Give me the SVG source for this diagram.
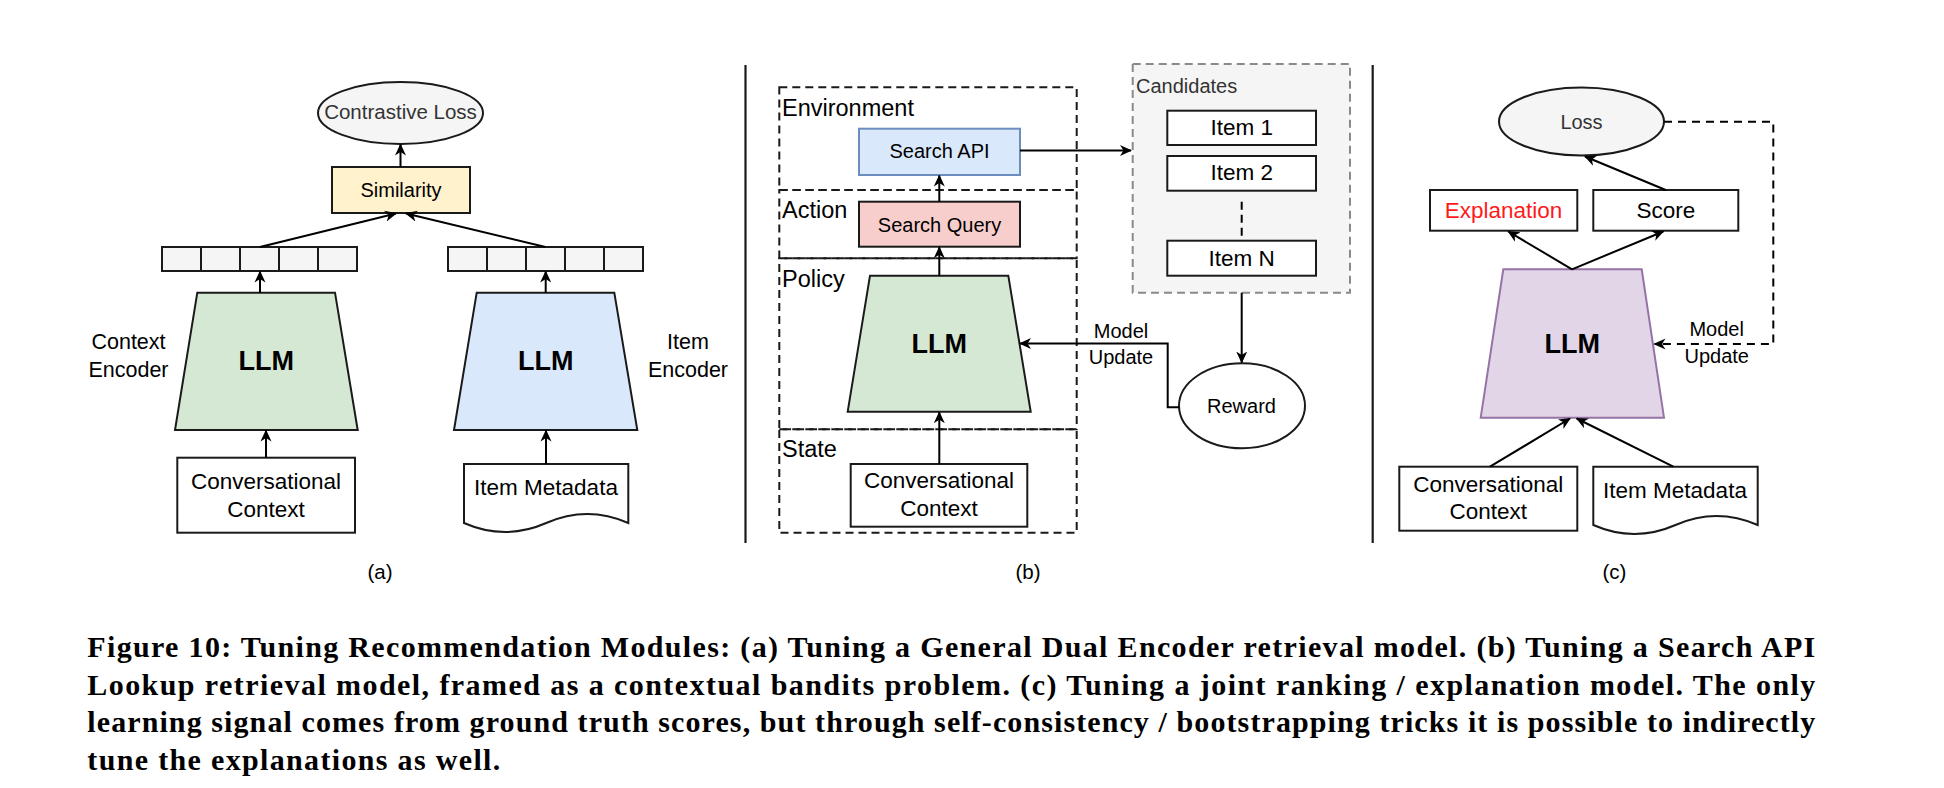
<svg xmlns="http://www.w3.org/2000/svg" width="1944" height="788" viewBox="0 0 1944 788">
<style>
.bg{fill:#ffffff}
.box{fill:#ffffff;stroke:#1a1a1a;stroke-width:2}
.gray{fill:#f5f5f5;stroke:#1a1a1a;stroke-width:2}
.green{fill:#d5e8d4;stroke:#1a1a1a;stroke-width:2}
.blue{fill:#dae8fc;stroke:#1a1a1a;stroke-width:2}
.yellow{fill:#fff2cc;stroke:#1a1a1a;stroke-width:2}
.red{fill:#f8cecc;stroke:#1a1a1a;stroke-width:2}
.purple{fill:#e1d5e7;stroke:#9673a6;stroke-width:2}
.api{fill:#dae8fc;stroke:#6c8ebf;stroke-width:2}
.zone{fill:none;stroke:#1a1a1a;stroke-width:2;stroke-dasharray:8 5}
.cand{fill:#f5f5f5;stroke:#8a8a8a;stroke-width:2;stroke-dasharray:8 5}
.edge{fill:none;stroke:#000;stroke-width:2}
.dash{fill:none;stroke:#000;stroke-width:2;stroke-dasharray:8 6}
.div{stroke:#1a1a1a;stroke-width:2.2}
.t{font-family:"Liberation Sans",Arial,Helvetica,sans-serif;font-size:20px;fill:#000}
.m{text-anchor:middle}
.big{font-size:22.5px}
.zl{font-size:23.5px}
.g3{fill:#333}
.sub{font-size:20.5px}
.llm{font-weight:bold;font-size:27px}
.cap{font-family:"Liberation Serif","Times New Roman",serif;font-weight:bold;font-size:30px;fill:#000}
</style>
<defs>
<marker id="arr" viewBox="0 0 12 12" refX="11" refY="6" markerWidth="12" markerHeight="12" markerUnits="userSpaceOnUse" orient="auto">
<path d="M0,0.5 L12,6 L0,11.5 L3.5,6 Z" fill="#000"/>
</marker>
</defs>
<rect class="bg" x="0" y="0" width="1944" height="788"/>

<!-- Panel (a) -->
<g id="a-contrastive-loss">
<ellipse class="gray" cx="400.5" cy="113" rx="82.5" ry="31"/>
<text class="t m g3" x="400.5" y="118.5" style="font-size:20.5px">Contrastive Loss</text>
</g>
<g id="a-similarity">
<rect class="yellow" x="332" y="167" width="138" height="46"/>
<text class="t m" x="401" y="197">Similarity</text>
</g>
<g id="a-context-vector">
<rect class="gray" x="162" y="247" width="39" height="24"/>
<rect class="gray" x="201" y="247" width="39" height="24"/>
<rect class="gray" x="240" y="247" width="39" height="24"/>
<rect class="gray" x="279" y="247" width="39" height="24"/>
<rect class="gray" x="318" y="247" width="39" height="24"/>
</g>
<g id="a-item-vector">
<rect class="gray" x="448" y="247" width="39" height="24"/>
<rect class="gray" x="487" y="247" width="39" height="24"/>
<rect class="gray" x="526" y="247" width="39" height="24"/>
<rect class="gray" x="565" y="247" width="39" height="24"/>
<rect class="gray" x="604" y="247" width="39" height="24"/>
</g>
<g id="a-context-llm">
<polygon class="green" points="197.3,292.7 335,292.7 357.7,430 175,430"/>
<text class="t m llm" x="266.3" y="370">LLM</text>
</g>
<g id="a-item-llm">
<polygon class="blue" points="476.7,292.7 614.3,292.7 637.3,430 454,430"/>
<text class="t m llm" x="545.7" y="370">LLM</text>
</g>
<g id="a-context-encoder-label">
<text class="t m" x="128.5" y="349.3" style="font-size:21.5px">Context</text>
<text class="t m" x="128.5" y="376.7" style="font-size:21.5px">Encoder</text>
</g>
<g id="a-item-encoder-label">
<text class="t m" x="688" y="349.3" style="font-size:21.5px">Item</text>
<text class="t m" x="688" y="376.7" style="font-size:21.5px">Encoder</text>
</g>
<g id="a-conversational-context">
<rect class="box" x="177.3" y="457.7" width="177.7" height="75"/>
<text class="t m big" x="266" y="489.3">Conversational</text>
<text class="t m big" x="266" y="516.7">Context</text>
</g>
<g id="a-item-metadata">
<path class="box" d="M464,464 H628.3 V523 Q587.2,505 546.2,523 Q505.1,541 464,523 Z"/>
<text class="t m big" x="546" y="495">Item Metadata</text>
</g>
<g id="a-caption">
<text class="t m sub" x="380" y="579">(a)</text>
</g>

<line class="div" x1="745.5" y1="65" x2="745.5" y2="543"/>

<!-- Panel (b) -->
<g id="b-environment">
<rect class="zone" x="779.3" y="87.3" width="297.4" height="102.7"/>
<text class="t zl" x="782" y="116">Environment</text>
</g>
<g id="b-action">
<rect class="zone" x="779.3" y="190" width="297.4" height="68.3"/>
<text class="t zl" x="782" y="218.3">Action</text>
</g>
<g id="b-policy">
<rect class="zone" x="779.3" y="258.3" width="297.4" height="171"/>
<text class="t zl" x="782" y="287.3">Policy</text>
</g>
<g id="b-state">
<rect class="zone" x="779.3" y="429.3" width="297.4" height="103.4"/>
<text class="t zl" x="782" y="457.3">State</text>
</g>
<g id="b-search-api">
<rect class="api" x="859" y="128.7" width="161" height="46.3"/>
<text class="t m" x="939.5" y="158.3">Search API</text>
</g>
<g id="b-search-query">
<rect class="red" x="859" y="201.7" width="161" height="45"/>
<text class="t m" x="939.5" y="231.7">Search Query</text>
</g>
<g id="b-llm">
<polygon class="green" points="870,275.7 1008.3,275.7 1030.7,411.7 847.7,411.7"/>
<text class="t m llm" x="939.2" y="352.7">LLM</text>
</g>
<g id="b-conversational-context">
<rect class="box" x="850.7" y="464" width="176.6" height="62.7"/>
<text class="t m big" x="939" y="488.3">Conversational</text>
<text class="t m big" x="939" y="516">Context</text>
</g>
<g id="b-candidates">
<rect class="cand" x="1132.7" y="64" width="217.3" height="228.7"/>
<text class="t g3" x="1136" y="93.3">Candidates</text>
</g>
<g id="b-item-1">
<rect class="box" x="1167.3" y="110.7" width="148.7" height="34.3"/>
<text class="t m big" x="1241.7" y="135">Item 1</text>
</g>
<g id="b-item-2">
<rect class="box" x="1167.3" y="156" width="148.7" height="34.7"/>
<text class="t m big" x="1241.7" y="180">Item 2</text>
</g>
<g id="b-item-n">
<rect class="box" x="1167.3" y="240.7" width="148.7" height="35"/>
<text class="t m big" x="1241.7" y="266">Item N</text>
</g>
<g id="b-reward">
<ellipse class="box" cx="1242" cy="405.8" rx="63" ry="42.5"/>
<text class="t m" x="1241.5" y="412.7">Reward</text>
</g>
<g id="b-caption">
<text class="t m sub" x="1028" y="579">(b)</text>
</g>

<line class="div" x1="1372.7" y1="65" x2="1372.7" y2="543"/>

<!-- Panel (c) -->
<g id="c-loss">
<ellipse class="gray" cx="1581.5" cy="121.5" rx="82.5" ry="34"/>
<text class="t m g3" x="1581.5" y="129.3">Loss</text>
</g>
<g id="c-explanation">
<rect class="box" x="1430" y="190" width="147.3" height="40.7"/>
<text class="t m big" x="1503.5" y="217.5" style="fill:#ff1a1a">Explanation</text>
</g>
<g id="c-score">
<rect class="box" x="1593.3" y="190" width="145" height="40.7"/>
<text class="t m big" x="1665.8" y="217.5">Score</text>
</g>
<g id="c-llm">
<polygon class="purple" points="1503.3,269.3 1641.7,269.3 1664,417.7 1480.7,417.7"/>
<text class="t m llm" x="1572.3" y="353.3">LLM</text>
</g>
<g id="c-conversational-context">
<rect class="box" x="1399.3" y="466.7" width="178" height="64"/>
<text class="t m big" x="1488.3" y="491.7">Conversational</text>
<text class="t m big" x="1488.3" y="519.3">Context</text>
</g>
<g id="c-item-metadata">
<path class="box" d="M1593.3,466.7 H1757.7 V525 Q1716.6,507 1675.5,525 Q1634.4,543 1593.3,525 Z"/>
<text class="t m big" x="1675" y="498.3">Item Metadata</text>
</g>
<g id="c-caption">
<text class="t m sub" x="1614.5" y="579">(c)</text>
</g>

<!-- Connectors -->
<g id="connectors">
<line class="edge" x1="400.5" y1="167" x2="400.5" y2="144.5" marker-end="url(#arr)"/>
<line class="edge" x1="260" y1="247" x2="396" y2="213.5" marker-end="url(#arr)"/>
<line class="edge" x1="545.5" y1="247" x2="406" y2="213.5" marker-end="url(#arr)"/>
<line class="edge" x1="260" y1="292.7" x2="260" y2="271.5" marker-end="url(#arr)"/>
<line class="edge" x1="545.7" y1="292.7" x2="545.7" y2="271.5" marker-end="url(#arr)"/>
<line class="edge" x1="266" y1="457.7" x2="266" y2="430.5" marker-end="url(#arr)"/>
<line class="edge" x1="546" y1="464" x2="546" y2="430.5" marker-end="url(#arr)"/>

<line class="edge" x1="939.3" y1="201.7" x2="939.3" y2="175.5" marker-end="url(#arr)"/>
<line class="edge" x1="939.3" y1="275.7" x2="939.3" y2="247.2" marker-end="url(#arr)"/>
<line class="edge" x1="939.3" y1="464" x2="939.3" y2="412.2" marker-end="url(#arr)"/>
<line class="edge" x1="1020" y1="150.5" x2="1131" y2="150.5" marker-end="url(#arr)"/>
<line class="dash" x1="1241.7" y1="201.7" x2="1241.7" y2="240.7" style="stroke-dasharray:8 5"/>
<line class="edge" x1="1241.7" y1="292.7" x2="1241.7" y2="362.5" marker-end="url(#arr)"/>
<polyline class="edge" points="1179,407.3 1167.7,407.3 1167.7,343.5 1020,343.5" marker-end="url(#arr)"/>
<text class="t m" x="1121" y="338.3">Model</text>
<text class="t m" x="1121" y="363.5">Update</text>

<line class="edge" x1="1665.7" y1="190" x2="1585" y2="156.5" marker-end="url(#arr)"/>
<line class="edge" x1="1572" y1="269.3" x2="1508.3" y2="231.5" marker-end="url(#arr)"/>
<line class="edge" x1="1572" y1="269.3" x2="1663.3" y2="231.5" marker-end="url(#arr)"/>
<line class="edge" x1="1490" y1="466.7" x2="1570" y2="418.5" marker-end="url(#arr)"/>
<line class="edge" x1="1673.3" y1="466.7" x2="1576.7" y2="418.5" marker-end="url(#arr)"/>
<polyline class="dash" points="1664,121.7 1773.3,121.7 1773.3,344 1654.5,344" marker-end="url(#arr)"/>
<text class="t m" x="1716.7" y="336">Model</text>
<text class="t m" x="1716.7" y="362.7">Update</text>
</g>

<!-- Figure caption -->
<g id="figure-caption">
<text class="cap" x="87.3" y="657" textLength="1728" lengthAdjust="spacing">Figure 10: Tuning Recommendation Modules: (a) Tuning a General Dual Encoder retrieval model. (b) Tuning a Search API</text>
<text class="cap" x="87.3" y="694.7" textLength="1728" lengthAdjust="spacing">Lookup retrieval model, framed as a contextual bandits problem. (c) Tuning a joint ranking / explanation model. The only</text>
<text class="cap" x="87.3" y="732.4" textLength="1728" lengthAdjust="spacing">learning signal comes from ground truth scores, but through self-consistency / bootstrapping tricks it is possible to indirectly</text>
<text class="cap" x="87.3" y="770" textLength="413" lengthAdjust="spacing">tune the explanations as well.</text>
</g>
</svg>
